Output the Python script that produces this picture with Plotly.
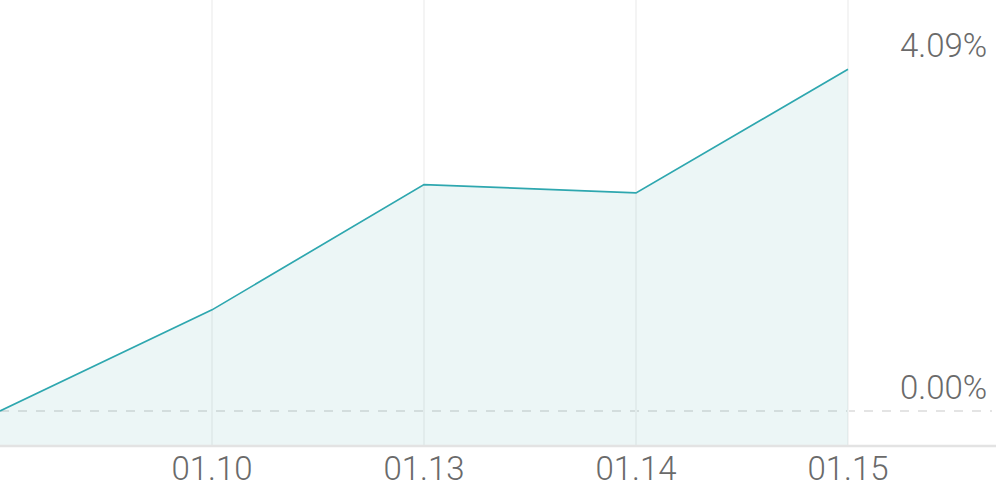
import plotly.graph_objects as go

dates = ["01.09", "01.10", "01.13", "01.14", "01.15"]
returns = [0.00, 1.21, 2.71, 2.61, 4.09]
shown_ticks = ["", "01.10", "01.13", "01.14", "01.15"]
y_labels = ["4.09%", "0.00%"]
y_label_vals = [4.09, 0.00]

x_idx = list(range(len(dates)))
y_range = [-0.42, 4.92]
x_range = [0, 4.698]

LINE = "#2ea7af"
FILL = "rgba(46,160,160,0.09)"
TEXT = "#6a6a6a"
FONT = "Roboto Light, Roboto, sans-serif"

fig = go.Figure()
fig.add_trace(go.Scatter(x=x_idx, y=[y_range[0]] * len(x_idx), mode="lines",
                         line=dict(width=0), hoverinfo="skip", showlegend=False))
fig.add_trace(go.Scatter(x=x_idx, y=returns, mode="lines", fill="tonexty",
                         fillcolor=FILL, line=dict(color=LINE, width=1.7),
                         showlegend=False))

fig.add_shape(type="line", xref="paper", yref="y", x0=0, x1=0.996, y0=0, y1=0,
              line=dict(color="#dcdcdc", width=1.5, dash="dash"), layer="below")

for txt, v in zip(y_labels, y_label_vals):
    fig.add_annotation(text=txt, xref="paper", yref="y", x=989 / 996, y=v,
                       xanchor="right", yanchor="bottom", showarrow=False,
                       yshift=2, font=dict(family=FONT, size=33, color=TEXT))

fig.update_layout(
    width=996, height=490,
    margin=dict(l=0, r=0, t=0, b=44),
    paper_bgcolor="white", plot_bgcolor="white",
    xaxis=dict(range=x_range, tickvals=x_idx, ticktext=shown_ticks,
               showgrid=True, gridcolor="#f4f4f4", gridwidth=2,
               zeroline=False, showline=False, ticks="",
               tickfont=dict(family=FONT, size=33, color=TEXT)),
    yaxis=dict(range=y_range, showgrid=False, zeroline=False,
               showticklabels=False, showline=False),
)
fig.add_shape(type="line", xref="paper", yref="paper", x0=0, x1=1, y0=0, y1=0,
              line=dict(color="#e3e3e3", width=2.5))

fig.write_html("out.html", config={"displayModeBar": False},
               post_script="document.body.style.margin='0';")
